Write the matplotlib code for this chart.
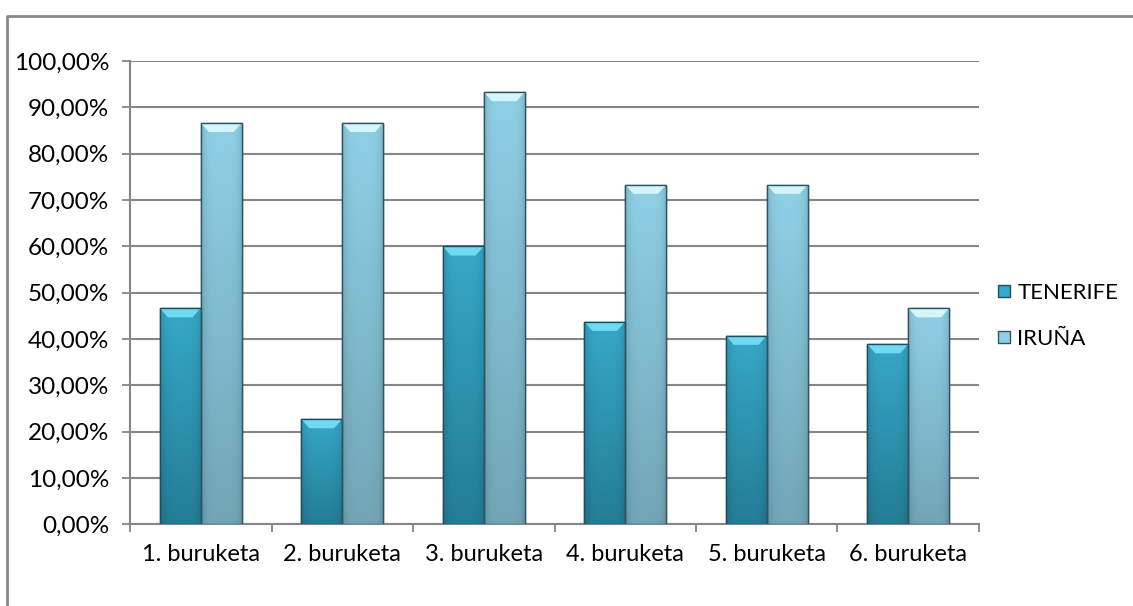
import numpy as np
import matplotlib
matplotlib.use("Agg")
from matplotlib import pyplot as plt
from matplotlib.lines import Line2D
from matplotlib.patches import Polygon
from matplotlib.ticker import FuncFormatter, MultipleLocator

# data
groups = ["1. buruketa", "2. buruketa", "3. buruketa",
          "4. buruketa", "5. buruketa", "6. buruketa"]
tenerife = [46.67, 22.73, 60.00, 43.75, 40.74, 38.89]
iruna = [86.67, 86.67, 93.33, 73.33, 73.33, 46.67]
series_names = ["TENERIFE", "IRUÑA"]

plt.rcParams['font.family'] = ['Lato', 'DejaVu Sans']

fig = plt.figure(figsize=(11.33, 6.06), dpi=100)
ax = fig.add_axes([130 / 1133, 1 - 524.3 / 606, (979 - 130) / 1133, (524.3 - 61) / 606])

x = np.arange(len(groups))
w = 0.29

# (top colour, bottom colour, bevel colour, edge colour)
styles = [("#36a8c8", "#247d96", "#6fdaf2", "#1c4f60"),
          ("#8fd0e6", "#72a6b7", "#d4f5fc", "#2f5563")]


def shade_bar(patch, c_top, c_bot):
    # vertical gradient, darker at the sides, clipped to the bar
    x0, y0 = patch.get_x(), patch.get_y()
    bw, bh = patch.get_width(), patch.get_height()
    t = np.linspace(0, 1, 60)[:, None]          # bottom -> top
    s = np.linspace(-1, 1, 30)[None, :]
    top = np.array(matplotlib.colors.to_rgb(c_top))
    bot = np.array(matplotlib.colors.to_rgb(c_bot))
    col = bot + (top - bot) * t[..., None]
    side = 1 - 0.12 * s[..., None] ** 4
    img = np.clip(col * side, 0, 1)
    im = ax.imshow(img, extent=(x0, x0 + bw, y0, y0 + bh), origin="lower",
                   aspect="auto", zorder=3, interpolation="bilinear")
    im.set_clip_path(patch)


def bevel(patch, color):
    x0, bw, h = patch.get_x(), patch.get_width(), patch.get_height()
    dx = bw * 0.2
    dy = 2.0
    poly = Polygon([(x0, h), (x0 + bw, h), (x0 + bw - dx, h - dy), (x0 + dx, h - dy)],
                   closed=True, facecolor=color, edgecolor="none", zorder=4)
    ax.add_patch(poly)


handles = []
for k, vals in enumerate([tenerife, iruna]):
    c_top, c_bot, c_bev, c_edge = styles[k]
    bars = ax.bar(x + (k - 0.5) * w, vals, width=w, facecolor=c_top,
                  edgecolor=c_edge, linewidth=1.0, zorder=2)
    for b in bars:
        shade_bar(b, c_top, c_bot)
        bevel(b, c_bev)
        ax.add_patch(plt.Rectangle((b.get_x(), 0), b.get_width(), b.get_height(),
                                   fill=False, edgecolor=c_edge, linewidth=1.0, zorder=5))
    handles.append(Line2D([], [], marker="s", linestyle="none", markersize=9,
                          markerfacecolor=c_top, markeredgecolor=c_edge))

ax.set_xlim(-0.5, len(groups) - 0.5)
ax.set_ylim(0, 100)
ax.yaxis.set_major_locator(MultipleLocator(10))
ax.yaxis.set_major_formatter(FuncFormatter(lambda v, p: f"{v:.2f}%".replace(".", ",")))
ax.grid(axis="y", color="#868686", linewidth=1.5, zorder=1)
ax.set_axisbelow(True)

ax.set_xticks(x)
ax.set_xticklabels(groups)
ax.set_xticks(np.arange(len(groups) + 1) - 0.5, minor=True)
ax.tick_params(axis="x", which="major", length=0, pad=14, labelsize=17)
ax.tick_params(axis="x", which="minor", length=6, width=1.3, color="#868686", direction="out")
ax.tick_params(axis="y", length=6, width=1.3, color="#868686", labelsize=17.5, pad=9)

for side in ["top", "right"]:
    ax.spines[side].set_visible(False)
for side in ["left", "bottom"]:
    ax.spines[side].set_color("#868686")
    ax.spines[side].set_linewidth(1.5)

fig.legend(handles, series_names, loc="center left", bbox_to_anchor=(995 / 1133, 1 - 316 / 606),
           frameon=False, fontsize=16, handlelength=0.8, handletextpad=0.2,
           labelspacing=1.15, borderaxespad=0, borderpad=0)

# outer chart border (only top and left visible in the reference)
fig.add_artist(Line2D([7 / 1133, 7 / 1133, 1.0], [0, 1 - 16 / 606, 1 - 16 / 606],
                      color="#8a8a8a", linewidth=2, transform=fig.transFigure))

fig.savefig("out.png", dpi=100, facecolor="white")
